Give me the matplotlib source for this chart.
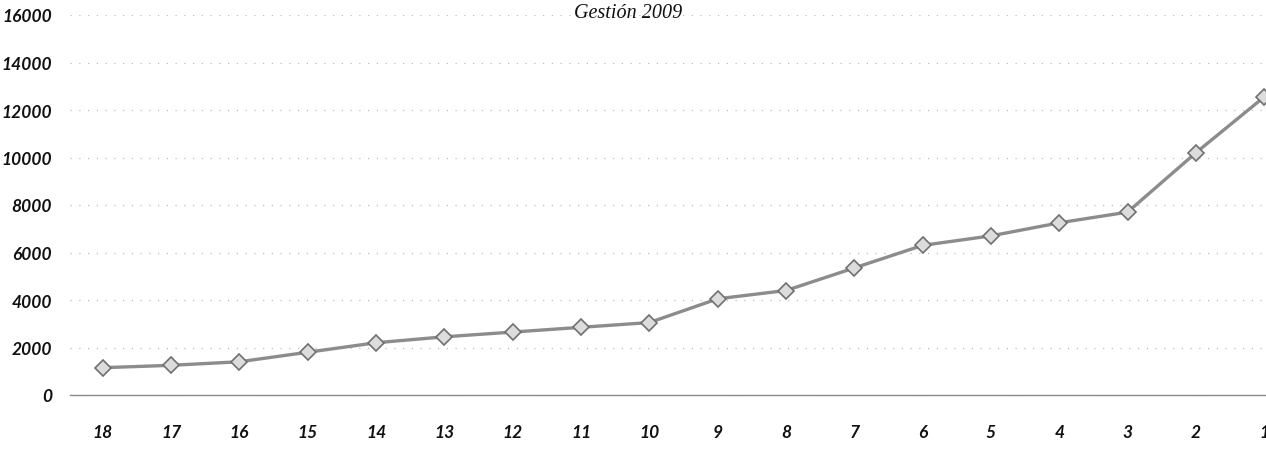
import matplotlib.pyplot as plt

# Data =====================================================
periods = ['18', '17', '16', '15', '14', '13', '12', '11', '10',
           '9', '8', '7', '6', '5', '4', '3', '2', '1']
values = [1150, 1250, 1400, 1800, 2200, 2450, 2650, 2850, 3050,
          4050, 4400, 5350, 6300, 6700, 7250, 7700, 10200, 12550]
y_ticks = [0, 2000, 4000, 6000, 8000, 10000, 12000, 14000, 16000]
title = 'Gestión 2009'

# Plot =====================================================
fig = plt.figure(figsize=(12.66, 4.56), dpi=100)
ax = fig.add_axes([70 / 1266, 60 / 456, 1227 / 1266, 380 / 456])

xpos = list(range(len(periods)))
ax.plot(xpos, values, color='#8c8c8c', linewidth=2.4, marker='D',
        markersize=8.5, markerfacecolor='#dcdcdc', markeredgecolor='#707070',
        markeredgewidth=1.2, zorder=3)

ax.set_xlim(-0.48, len(periods) - 0.52)
ax.set_ylim(0, 16000)
ax.set_yticks(y_ticks)
ax.set_yticklabels([str(v) for v in y_ticks])
ax.set_xticks(xpos)
ax.set_xticklabels(periods)

ax.grid(axis='y', color='#bdbdbd', linestyle=(0, (1, 6)), linewidth=0.9)
ax.set_axisbelow(True)
for side in ['left', 'right', 'top']:
    ax.spines[side].set_visible(False)
ax.spines['bottom'].set_color('#8a8a8a')
ax.spines['bottom'].set_linestyle((0, (2, 1)))
ax.spines['bottom'].set_linewidth(1.0)

ax.tick_params(axis='both', length=0)
ax.tick_params(axis='y', pad=13)
ax.tick_params(axis='x', pad=21)
for lab in ax.get_yticklabels() + ax.get_xticklabels():
    lab.set_fontfamily('Lato')
    lab.set_fontweight('bold')
    lab.set_fontstyle('italic')
    lab.set_fontsize(12.5)
    lab.set_color('#111111')

fig.text(628 / 1266, 1 - 14 / 456, title, ha='center', va='center',
         fontfamily='Liberation Serif', fontstyle='italic', fontsize=14.5,
         color='#111111')

fig.savefig('out.png', dpi=100)
